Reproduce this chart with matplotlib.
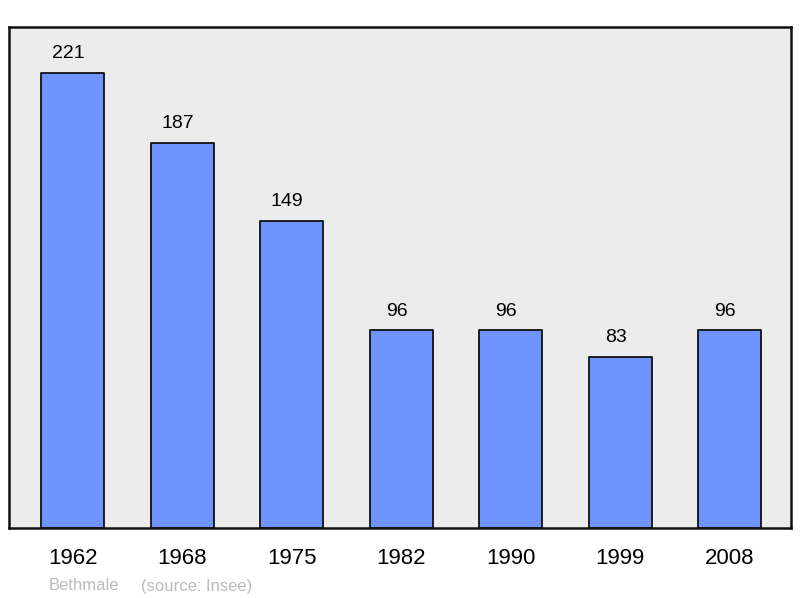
import matplotlib
matplotlib.use("Agg")
import matplotlib.pyplot as plt

years = ["1962", "1968", "1975", "1982", "1990", "1999", "2008"]
population = [221, 187, 149, 96, 96, 83, 96]

plt.rcParams['font.family'] = ['Liberation Sans', 'DejaVu Sans']

fig = plt.figure(figsize=(8, 5.98), dpi=100)
ax = fig.add_axes([9/800, 70/598, 782/800, 501/598])
ax.set_facecolor('#ececec')

x = list(range(len(years)))
bars = ax.bar(x, population, width=0.575, color='#7094ff', edgecolor='#111111', linewidth=1.3)
for b in bars:
    b.set_joinstyle('round')

for xi, v in zip(x, population):
    ax.annotate(str(v), (xi, v), xytext=(-3.2, 7.7), textcoords='offset points',
                ha='center', va='bottom', fontsize=14, color='#000000')

ax.set_xlim(-0.58, 6.56)
ax.set_ylim(0, 243.3)
ax.set_xticks(x)
ax.set_xticklabels(years, fontsize=16, color='#000000')
ax.tick_params(axis='x', length=0, pad=14.5)
ax.set_yticks([])
for s in ax.spines.values():
    s.set_linewidth(1.8)
    s.set_color('#111111')
    s.set_joinstyle('round')

fig.text(49/800, 1 - 586/598, "Bethmale", fontsize=12, color='#bbbbbb', va='center', ha='left')
fig.text(141/800, 1 - 586/598, "(source: Insee)", fontsize=12, color='#bbbbbb', va='center', ha='left')

fig.savefig("out.png", dpi=100)
